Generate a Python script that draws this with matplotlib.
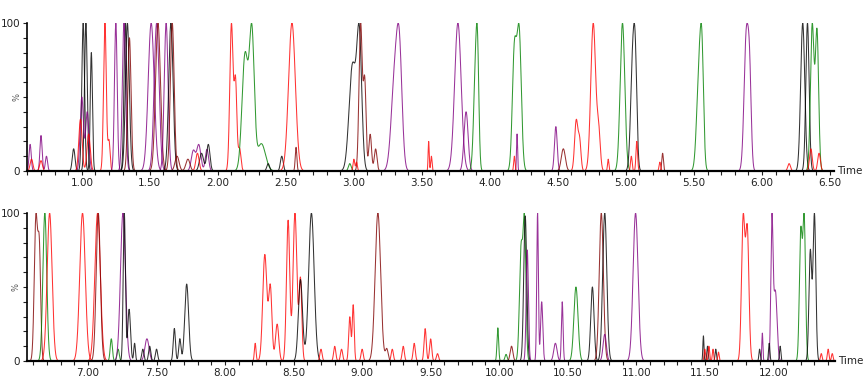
import numpy as np
import matplotlib
matplotlib.use("Agg")
import matplotlib.pyplot as plt
from matplotlib.ticker import MultipleLocator

# peak tables: retention time, height (%), width (sigma), trace id
top_time = [0.62, 0.70, 0.74, 0.63, 0.70,
            0.94, 1.01, 1.03, 1.07, 1.00, 1.04, 0.99, 1.05,
            1.17, 1.20, 1.25, 1.32, 1.31, 1.335, 1.35,
            1.51, 1.55, 1.56, 1.62, 1.655, 1.665,
            1.82, 1.86, 1.92, 1.88, 1.93, 1.70, 1.78, 1.85,
            2.10, 2.13, 2.16, 2.20, 2.25, 2.32, 2.37, 2.47,
            2.545, 2.575, 2.99, 3.04, 3.05, 3.08, 3.12, 3.16, 2.97, 3.00, 3.02,
            3.30, 3.335, 3.55, 3.57, 3.765, 3.825, 3.895, 3.91,
            4.18, 4.215, 4.20, 4.18, 4.485, 4.54, 4.635, 4.66,
            4.76, 4.80, 4.87, 4.975, 5.05, 5.07, 5.04, 5.08, 5.27, 5.25,
            5.54, 5.56, 5.885, 5.91, 6.30, 6.335, 6.37, 6.405, 6.20, 6.36, 6.42]
top_height = [18, 24, 10, 8, 7,
              15, 100, 100, 80, 50, 40, 35, 25,
              100, 20, 100, 100, 100, 100, 90,
              100, 100, 100, 100, 100, 100,
              14, 18, 15, 12, 18, 10, 8, 12,
              100, 60, 15, 85, 100, 20, 5, 10,
              100, 16, 80, 100, 100, 60, 25, 15, 5, 8, 6,
              85, 100, 20, 10, 100, 40, 100, 80,
              85, 100, 25, 10, 30, 15, 35, 20,
              100, 25, 8, 100, 100, 80, 10, 20, 12, 6,
              100, 75, 100, 60, 100, 100, 100, 95, 5, 15, 12]
top_sigma = [0.008, 0.008, 0.008, 0.01, 0.01,
             0.01, 0.010, 0.010, 0.008, 0.012, 0.012, 0.012, 0.012,
             0.010, 0.008, 0.010, 0.010, 0.012, 0.014, 0.012,
             0.022, 0.018, 0.018, 0.014, 0.016, 0.014,
             0.015, 0.015, 0.012, 0.015, 0.012, 0.015, 0.015, 0.012,
             0.012, 0.010, 0.010, 0.022, 0.018, 0.03, 0.01, 0.01,
             0.025, 0.006, 0.025, 0.018, 0.012, 0.010, 0.010, 0.010, 0.01, 0.006, 0.006,
             0.025, 0.020, 0.004, 0.005, 0.024, 0.015, 0.014, 0.010,
             0.015, 0.016, 0.004, 0.005, 0.010, 0.015, 0.012, 0.010,
             0.018, 0.012, 0.005, 0.017, 0.015, 0.012, 0.006, 0.006, 0.006, 0.006,
             0.018, 0.012, 0.016, 0.012, 0.015, 0.012, 0.013, 0.012, 0.01, 0.01, 0.01]
top_trace = ['p0', 'p0', 'p0', 'r0', 'r0',
             'k4', 'k1', 'k2', 'k3', 'p1', 'p1', 'r1', 'r1',
             'r2', 'r2', 'p2', 'k5', 'p3', 'k6', 'm0',
             'p4', 'p5', 'm1', 'p6', 'k7', 'm2',
             'p7', 'p7', 'p7', 'k8', 'k8', 'm3', 'm3', 'r3',
             'r4', 'r4', 'r4', 'g1', 'g1', 'g1', 'k9', 'k9',
             'r5', 'm4', 'k10', 'k10', 'm5', 'm5', 'm5', 'm5', 'g2', 'r6', 'r6',
             'p8', 'p8', 'r7', 'r7', 'p9', 'p10', 'g3', 'g3',
             'g4', 'g4', 'p11', 'r8', 'p12', 'm6', 'r9', 'r9',
             'r10', 'r10', 'r10', 'g5', 'k11', 'k11', 'r11', 'r11', 'm7', 'r12',
             'g6', 'g6', 'p13', 'p13', 'k12', 'k13', 'g7', 'g7', 'r13', 'r13', 'r13']

bot_time = [6.62, 6.645, 6.685, 7.17, 7.22, 6.72, 6.96, 7.07, 7.075,
            7.255, 7.43, 7.265, 7.30, 7.34, 7.40, 7.45, 7.50,
            7.63, 7.67, 7.72,
            8.22, 8.29, 8.33, 8.38, 8.46, 8.51, 8.55, 8.55, 8.63,
            8.70, 8.80, 8.85, 8.91, 8.935, 9.00, 9.22, 9.30, 9.38, 9.46, 9.50, 9.55,
            9.115, 9.18, 9.99, 10.05, 10.16, 10.185, 10.09, 10.19, 10.205,
            10.28, 10.31, 10.41, 10.46, 10.56, 10.68, 10.745, 10.77, 10.77, 10.995,
            11.49, 11.52, 11.58, 11.50, 11.53, 11.56, 11.60,
            11.78, 11.81, 11.99, 12.015, 11.92, 11.90, 11.97, 12.05,
            12.20, 12.225, 12.27, 12.30, 12.35, 12.40, 12.43]
bot_height = [100, 75, 100, 15, 8, 100, 100, 100, 100,
              100, 15, 100, 35, 12, 8, 10, 8,
              22, 15, 52,
              12, 72, 50, 25, 95, 100, 55, 55, 100,
              8, 10, 8, 30, 38, 8, 8, 10, 12, 22, 15, 5,
              100, 8, 25, 5, 85, 100, 10, 98, 75,
              100, 40, 12, 40, 50, 50, 100, 100, 18, 100,
              17, 10, 8, 8, 10, 8, 6,
              100, 92, 100, 50, 20, 8, 12, 10,
              90, 100, 75, 100, 5, 8, 5]
bot_sigma = [0.012, 0.010, 0.014, 0.008, 0.008, 0.018, 0.020, 0.020, 0.015,
             0.018, 0.015, 0.008, 0.010, 0.006, 0.008, 0.008, 0.008,
             0.008, 0.008, 0.014,
             0.006, 0.015, 0.012, 0.012, 0.012, 0.014, 0.010, 0.015, 0.020,
             0.008, 0.008, 0.008, 0.008, 0.007, 0.008, 0.008, 0.008, 0.008, 0.008, 0.008, 0.008,
             0.020, 0.010, 0.006, 0.008, 0.012, 0.010, 0.010, 0.011, 0.008,
             0.006, 0.008, 0.012, 0.006, 0.015, 0.012, 0.015, 0.015, 0.012, 0.018,
             0.004, 0.005, 0.005, 0.005, 0.005, 0.005, 0.005,
             0.012, 0.012, 0.008, 0.012, 0.004, 0.005, 0.005, 0.005,
             0.010, 0.010, 0.010, 0.010, 0.006, 0.006, 0.006]
bot_trace = ['m1', 'm1', 'g1', 'g2', 'g2', 'r1', 'r2', 'r3', 'm2',
             'p1', 'p1', 'k1', 'k1', 'k1', 'k1', 'k1', 'k1',
             'k2', 'k2', 'k2',
             'r4', 'r4', 'r4', 'r4', 'r5', 'r5', 'r5', 'k3', 'k3',
             'r6', 'r6', 'r6', 'r6', 'r6', 'r6', 'r6', 'r6', 'r6', 'r6', 'r6', 'r6',
             'm3', 'm3', 'g3', 'g3', 'g3', 'g3', 'm4', 'k4', 'p2',
             'p3', 'p3', 'p4', 'p4', 'g4', 'k5', 'm5', 'k6', 'p5', 'p6',
             'k7', 'k7', 'k7', 'r7', 'r7', 'r7', 'r7',
             'r8', 'r8', 'p7', 'p7', 'p7', 'k8', 'k8', 'k8',
             'g5', 'g5', 'k9', 'k9', 'r9', 'r9', 'r9']

trace_colors = {'k': '#000000', 'r': '#ff0000', 'g': '#008000',
                'p': '#800080', 'm': '#800000'}

top_ticks = [1.00, 1.50, 2.00, 2.50, 3.00, 3.50, 4.00, 4.50, 5.00, 5.50, 6.00, 6.50]
bot_ticks = [7.00, 7.50, 8.00, 8.50, 9.00, 9.50, 10.00, 10.50, 11.00, 11.50, 12.00]


def draw_panel(ax, times, heights, sigmas, traces, xlim, ticks):
    times = np.array(times)
    heights = np.array(heights)
    sigmas = np.array(sigmas)
    traces = np.array(traces)
    for tid in dict.fromkeys(traces):
        sel = traces == tid
        t, h, s = times[sel], heights[sel], sigmas[sel]
        x = np.linspace((t - 4 * s).min(), (t + 4 * s).max(), 800)
        y = np.zeros_like(x)
        for ti, hi, si in zip(t, h, s):
            y += hi * np.exp(-0.5 * ((x - ti) / si) ** 2)
        # each trace is normalised to its own tallest peak, like the instrument view
        if y.max() > h.max():
            y *= h.max() / y.max()
        ax.plot(x, y, color=trace_colors[tid[0]], lw=0.75, alpha=0.8)

    ax.set_xlim(*xlim)
    ax.set_ylim(0, 100)
    ax.spines['top'].set_visible(False)
    ax.spines['right'].set_visible(False)
    ax.spines['left'].set_linewidth(1.2)
    ax.spines['bottom'].set_linewidth(1.6)
    ax.set_xticks(ticks)
    ax.set_xticklabels([f"{v:.2f}" for v in ticks])
    ax.xaxis.set_minor_locator(MultipleLocator(0.1))
    ax.set_yticks([0, 100])
    ax.yaxis.set_minor_locator(MultipleLocator(10))
    ax.tick_params(axis='both', which='major', labelsize=7.5, colors='#222222',
                   length=3, width=0.8, pad=2)
    ax.tick_params(axis='both', which='minor', length=3, width=0.8, colors='#222222')
    ax.text(-0.013, 0.5, '%', transform=ax.transAxes, rotation=90,
            fontsize=6, color='#555555', ha='center', va='center')
    ax.text(1.004, 0.0, 'Time', transform=ax.transAxes, fontsize=7.5,
            color='#222222', ha='left', va='center')


fig = plt.figure(figsize=(8.65, 3.77), dpi=100)
ax1 = fig.add_axes([27 / 865, 206 / 377, 807 / 865, 148 / 377])
ax2 = fig.add_axes([27 / 865, 16 / 377, 808 / 865, 148 / 377])

draw_panel(ax1, top_time, top_height, top_sigma, top_trace, (0.597, 6.53), top_ticks)
draw_panel(ax2, bot_time, bot_height, bot_sigma, bot_trace, (6.555, 12.45), bot_ticks)

fig.savefig("out.png", dpi=100)
